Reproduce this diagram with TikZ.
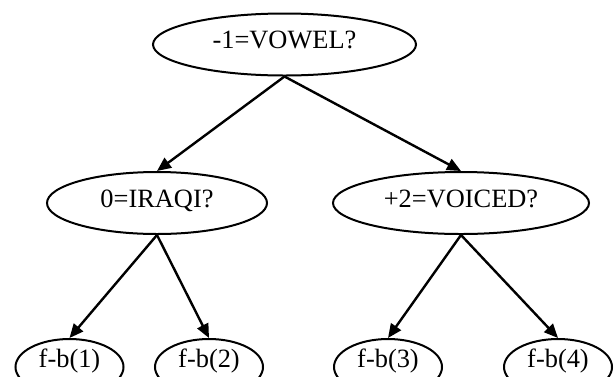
\documentclass[tikz,border=0pt]{standalone}
\usepackage{fontspec}
\setmainfont{Liberation Serif}
\usepackage{tikz}
\usetikzlibrary{arrows.meta, shapes.geometric}

\begin{document}
\begin{tikzpicture}[%
  x=0.5pt, y=-0.5pt,
  every node/.style={align=center, font=\fontsize{13.2}{15}\selectfont},
  test/.style={draw, ellipse, line width=1pt, inner sep=0pt, minimum height=31pt, text height=9pt, text depth=5pt},
  leaf/.style={draw, ellipse, line width=1pt, inner sep=0pt, minimum width=54pt, minimum height=28pt, text height=8pt, text depth=8pt},
  arr/.style={-{Triangle[length=7pt, width=6pt]}, line width=1.2pt}
]
\clip (0,0) rectangle (615,376);
\useasboundingbox (0,0) rectangle (615,376);

% 1. Root question
\node[test, minimum width=131.5pt] (vowel) at (284.5,44.5) {-1=VOWEL?};

% 2. Second level questions
\node[test, minimum width=110pt] (iraqi) at (157,203) {0=IRAQI?};
\node[test, minimum width=128pt] (voiced) at (461,203) {+2=VOICED?};
\draw[arr] (vowel.south) -- (iraqi.north);
\draw[arr] (vowel.south) -- (voiced.north);

% 3. Leaves
\node[leaf] (fb1) at (69.5,367) {f-b(1)};
\node[leaf] (fb2) at (209,367) {f-b(2)};
\node[leaf] (fb3) at (388,367) {f-b(3)};
\node[leaf] (fb4) at (558,367) {f-b(4)};
\draw[arr] (iraqi.south) -- (fb1.north);
\draw[arr] (iraqi.south) -- (fb2.north);
\draw[arr] (voiced.south) -- (fb3.north);
\draw[arr] (voiced.south) -- (fb4.north);

\end{tikzpicture}
\end{document}
